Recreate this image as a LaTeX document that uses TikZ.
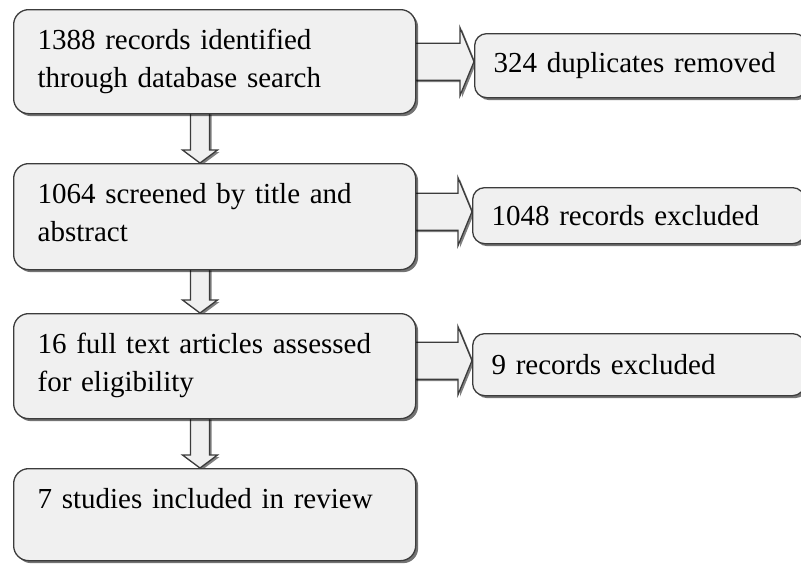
\documentclass[tikz,border=0pt]{standalone}
\usepackage{fontspec}
\setmainfont{Liberation Serif}
\usetikzlibrary{calc,shadows,backgrounds}

\definecolor{boxfill}{HTML}{F0F0F0}
\definecolor{boxline}{HTML}{3C3C3C}

\tikzset{
    flowbox/.style={draw=boxline, line width=1.3pt, fill=boxfill, rounded corners=15pt,
        drop shadow={shadow xshift=2.5pt, shadow yshift=-2.5pt, fill=black, opacity=0.55},
        font=\fontsize{29}{38}\selectfont},
    mainbox/.style={flowbox, anchor=north west, text width=354pt, inner xsep=24pt,
        inner ysep=4pt, text height=36pt, align=left},
    sidebox/.style={flowbox, anchor=north west, rounded corners=12pt, text width=294pt,
        inner xsep=19pt, inner ysep=0pt, align=left},
    blockarrow/.style={draw=boxline, line width=1.3pt, fill=boxfill,
        drop shadow={shadow xshift=2pt, shadow yshift=-2pt, fill=black, opacity=0.5}}
}

\begin{document}
\begin{tikzpicture}[x=1pt, y=1pt]
    \useasboundingbox (0,0) rectangle (801,-565);
    \clip (0,0) rectangle (801,-565);

    % Main column
    \node[mainbox, text depth=60pt] (b1) at (13,-9) {1388 records identified through database search};
    \node[mainbox, text depth=62pt] (b2) at (13,-163) {1064 screened by title and abstract};
    \node[mainbox, text depth=61pt] (b3) at (13,-313) {16 full text articles assessed for eligibility};
    \node[mainbox, text depth=48pt] (b4) at (13,-468) {7 studies included in review};

    % Exclusions
    \node[sidebox, minimum height=64pt] (r1) at (474,-33) {324 duplicates removed};
    \node[sidebox, minimum height=56pt] (r2) at (472,-187) {1048 records excluded};
    \node[sidebox, minimum height=62pt] (r3) at (472,-333) {9 records excluded};

    \begin{scope}[on background layer]
        % Down arrows
        \foreach \a/\b in {b1/b2,b2/b3,b3/b4}
            \draw[blockarrow] let \p1=($(\a.south west)+(187,0)$), \p2=($(\b.north west)+(187,0)$) in
                (\x1-9.5pt,\y1+2pt) -- (\x1-9.5pt,\y2+13pt) -- (\x1-17.5pt,\y2+13pt) -- (\x2,\y2)
                -- (\x1+17.5pt,\y2+13pt) -- (\x1+9.5pt,\y2+13pt) -- (\x1+9.5pt,\y1+2pt) -- cycle;

        % Side arrows
        \foreach \a/\b in {b1/r1,b2/r2,b3/r3}
            \draw[blockarrow] let \p1=(\a.east), \p2=($(\b.west)+(0,4)$) in
                (\x1-2pt,\y2+18.5pt) -- (\x2-14pt,\y2+18.5pt) -- (\x2-14pt,\y2+34pt) -- (\x2,\y2)
                -- (\x2-14pt,\y2-34pt) -- (\x2-14pt,\y2-18.5pt) -- (\x1-2pt,\y2-18.5pt) -- cycle;
    \end{scope}
\end{tikzpicture}
\end{document}
